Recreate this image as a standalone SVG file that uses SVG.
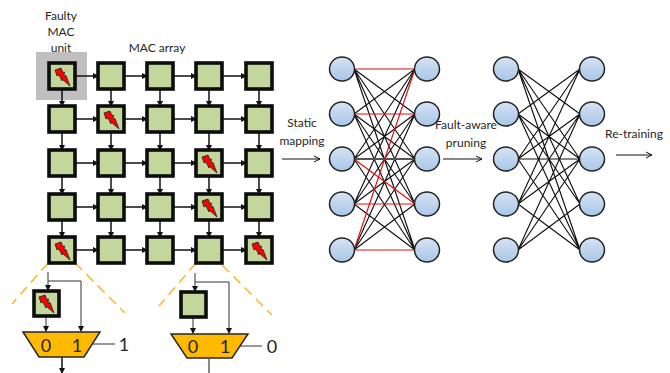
<svg xmlns="http://www.w3.org/2000/svg" xmlns:xlink="http://www.w3.org/1999/xlink" width="670" height="373" viewBox="0 0 670 373">
<style>
text{font-family:"Lato","Open Sans","Liberation Sans",sans-serif;fill:#262626}
.t{font-size:12px;text-anchor:middle}
.m{fill:#c3d69b;stroke:#0d0d0d;stroke-width:3.6}
.c{fill:none;stroke:#111;stroke-width:1.5;marker-end:url(#a)}
.d{fill:none;stroke:#333;stroke-width:1;marker-end:url(#a)}
.p{fill:none;stroke:#111;stroke-width:1;marker-end:url(#o)}
.y{stroke:#f2b92e;stroke-width:1.5;stroke-dasharray:10 6;fill:none}
.mux{fill:#ffb900;stroke:#262626;stroke-width:1.5}
.n{fill:url(#g);stroke:#222;stroke-width:1.5}
.k{stroke:#111;stroke-width:1.15;fill:none}
.r{stroke:#e01010;stroke-width:1.15;fill:none}
.b{font-size:18px;text-anchor:middle}
</style>
<defs>
<marker id="a" markerWidth="6" markerHeight="6" refX="5" refY="3" orient="auto" markerUnits="userSpaceOnUse"><path d="M0,0L6,3L0,6z" fill="#111"/></marker>
<marker id="o" markerWidth="8" markerHeight="8" refX="7" refY="4" orient="auto" markerUnits="userSpaceOnUse"><path d="M1,1L7,4L1,7" fill="none" stroke="#111"/></marker>
<linearGradient id="g" x1="0" y1="0" x2="0" y2="1"><stop offset="0" stop-color="#d5e3f4"/><stop offset="1" stop-color="#a9c6e8"/></linearGradient>
<g id="bolt"><path d="M-7,-6L-1,-8L1,-3.5L2.5,-4L2,0L4,-.5L8,10L0,3L0,5L-3,-1L-5,0z" fill="#f00" stroke="#222" stroke-width="0.8"/></g>
</defs>
<rect id="highlight" x="36" y="52" width="51" height="48" fill="#bfbfbf"/>
<g id="connectors">
<path class="c" d="M75,76H98"/><path class="c" d="M124,76H147"/><path class="c" d="M173,76H196"/><path class="c" d="M222,76H246"/>
<path class="c" d="M75,119H98"/><path class="c" d="M124,119H147"/><path class="c" d="M173,119H196"/><path class="c" d="M222,119H246"/>
<path class="c" d="M75,163H98"/><path class="c" d="M124,163H147"/><path class="c" d="M173,163H196"/><path class="c" d="M222,163H246"/>
<path class="c" d="M75,207H98"/><path class="c" d="M124,207H147"/><path class="c" d="M173,207H196"/><path class="c" d="M222,207H246"/>
<path class="c" d="M75,250H98"/><path class="c" d="M124,250H147"/><path class="c" d="M173,250H196"/><path class="c" d="M222,250H246"/>
<path class="c" d="M62,89V106"/><path class="c" d="M111,89V106"/><path class="c" d="M160,89V106"/><path class="c" d="M209,89V106"/><path class="c" d="M259,89V106"/>
<path class="c" d="M62,132V150"/><path class="c" d="M111,132V150"/><path class="c" d="M160,132V150"/><path class="c" d="M209,132V150"/><path class="c" d="M259,132V150"/>
<path class="c" d="M62,176V194"/><path class="c" d="M111,176V194"/><path class="c" d="M160,176V194"/><path class="c" d="M209,176V194"/><path class="c" d="M259,176V194"/>
<path class="c" d="M62,220V237"/><path class="c" d="M111,220V237"/><path class="c" d="M160,220V237"/><path class="c" d="M209,220V237"/><path class="c" d="M259,220V237"/>
<path class="y" d="M48,263L12,304"/><path class="y" d="M75,263L125,313"/>
<path class="y" d="M196,263L159,306"/><path class="y" d="M222,265L272,315"/>
<path class="d" d="M48,272V290"/><path class="d" d="M48,281H81V331"/><path class="d" d="M46,316V331"/>
<path class="d" d="M195,273V291"/><path class="d" d="M195,282H229V333"/><path class="d" d="M193,318V333"/>
<path class="c" d="M62,357V373"/><path d="M209,359V373" stroke="#111" fill="none"/>
<path d="M92,344H115" stroke="#333" fill="none"/><path d="M240,346H262" stroke="#333" fill="none"/>
<path class="p" d="M282,159H320"/><path class="p" d="M443,159H482"/><path class="p" d="M616,155H652"/>
</g>
<g id="mac-array">
<g id="m00"><rect class="m" x="49" y="63" width="26" height="26"/><use xlink:href="#bolt" x="62" y="76"/></g>
<g id="m01"><rect class="m" x="98" y="63" width="26" height="26"/></g>
<g id="m02"><rect class="m" x="147" y="63" width="26" height="26"/></g>
<g id="m03"><rect class="m" x="196" y="63" width="26" height="26"/></g>
<g id="m04"><rect class="m" x="246" y="63" width="26" height="26"/></g>
<g id="m10"><rect class="m" x="49" y="106" width="26" height="26"/></g>
<g id="m11"><rect class="m" x="98" y="106" width="26" height="26"/><use xlink:href="#bolt" x="111" y="119"/></g>
<g id="m12"><rect class="m" x="147" y="106" width="26" height="26"/></g>
<g id="m13"><rect class="m" x="196" y="106" width="26" height="26"/></g>
<g id="m14"><rect class="m" x="246" y="106" width="26" height="26"/></g>
<g id="m20"><rect class="m" x="49" y="150" width="26" height="26"/></g>
<g id="m21"><rect class="m" x="98" y="150" width="26" height="26"/></g>
<g id="m22"><rect class="m" x="147" y="150" width="26" height="26"/></g>
<g id="m23"><rect class="m" x="196" y="150" width="26" height="26"/><use xlink:href="#bolt" x="209" y="163"/></g>
<g id="m24"><rect class="m" x="246" y="150" width="26" height="26"/></g>
<g id="m30"><rect class="m" x="49" y="194" width="26" height="26"/></g>
<g id="m31"><rect class="m" x="98" y="194" width="26" height="26"/></g>
<g id="m32"><rect class="m" x="147" y="194" width="26" height="26"/></g>
<g id="m33"><rect class="m" x="196" y="194" width="26" height="26"/><use xlink:href="#bolt" x="209" y="207"/></g>
<g id="m34"><rect class="m" x="246" y="194" width="26" height="26"/></g>
<g id="m40"><rect class="m" x="49" y="237" width="26" height="26"/><use xlink:href="#bolt" x="62" y="250"/></g>
<g id="m41"><rect class="m" x="98" y="237" width="26" height="26"/></g>
<g id="m42"><rect class="m" x="147" y="237" width="26" height="26"/></g>
<g id="m43"><rect class="m" x="196" y="237" width="26" height="26"/></g>
<g id="m44"><rect class="m" x="246" y="237" width="26" height="26"/><use xlink:href="#bolt" x="259" y="250"/></g>
</g>
<g id="mux-left">
<g id="unit-left"><rect class="m" x="34" y="291" width="25" height="25"/><use xlink:href="#bolt" x="46" y="303"/></g>
<path class="mux" d="M23,332H100L84,357H39z"/>
<text class="b" x="46" y="352">0</text><text class="b" x="77" y="352">1</text>
<text x="124" y="351" font-size="18" text-anchor="middle">1</text>
</g>
<g id="mux-right">
<g id="unit-right"><rect class="m" x="181" y="292" width="25" height="25"/></g>
<path class="mux" d="M171,334H248L232,358H187z"/>
<text class="b" x="193" y="353">0</text><text class="b" x="225" y="353">1</text>
<text x="272" y="353" font-size="18" text-anchor="middle">0</text>
</g>
<g id="net-edges-1">
<path class="k" d="M354,69L415,114M354,69L415,159M354,69L415,204M354,69L415,250M354,114L415,69M354,114L415,159M354,114L415,204M354,114L415,250M354,159L415,69M354,159L415,114M354,159L415,250M354,204L415,69M354,204L415,114M354,204L415,159M354,204L415,250M354,250L415,114M354,250L415,159M354,250L415,204"/>
<path d="M354,159H415" stroke="#555" stroke-width="1.8" fill="none"/>
<path class="r" d="M354,69H415M354,114H415M354,159L415,204M354,204H415M354,250H415M354,250L415,69"/>
</g>
<g id="net-edges-2">
<path class="k" d="M518,69L580,114M518,69L580,159M518,69L580,204M518,69L580,250M518,114L580,69M518,114L580,159M518,114L580,204M518,114L580,250M518,159L580,69M518,159L580,114M518,159H580M518,159L580,250M518,204L580,69M518,204L580,114M518,204L580,159M518,204L580,250M518,250L580,114M518,250L580,159M518,250L580,204"/>
</g>
<g id="net-nodes-1">
<ellipse class="n" cx="342" cy="69" rx="12.5" ry="12"/><ellipse class="n" cx="342" cy="114" rx="12.5" ry="12"/><ellipse class="n" cx="342" cy="159" rx="12.5" ry="12"/><ellipse class="n" cx="342" cy="204" rx="12.5" ry="12"/><ellipse class="n" cx="342" cy="250" rx="12.5" ry="12"/>
<ellipse class="n" cx="427" cy="69" rx="12.5" ry="12"/><ellipse class="n" cx="427" cy="114" rx="12.5" ry="12"/><ellipse class="n" cx="427" cy="159" rx="12.5" ry="12"/><ellipse class="n" cx="427" cy="204" rx="12.5" ry="12"/><ellipse class="n" cx="427" cy="250" rx="12.5" ry="12"/>
</g>
<g id="net-nodes-2">
<ellipse class="n" cx="506" cy="69" rx="12.5" ry="12"/><ellipse class="n" cx="506" cy="114" rx="12.5" ry="12"/><ellipse class="n" cx="506" cy="159" rx="12.5" ry="12"/><ellipse class="n" cx="506" cy="204" rx="12.5" ry="12"/><ellipse class="n" cx="506" cy="250" rx="12.5" ry="12"/>
<ellipse class="n" cx="592" cy="69" rx="12.5" ry="12"/><ellipse class="n" cx="592" cy="114" rx="12.5" ry="12"/><ellipse class="n" cx="592" cy="159" rx="12.5" ry="12"/><ellipse class="n" cx="592" cy="204" rx="12.5" ry="12"/><ellipse class="n" cx="592" cy="250" rx="12.5" ry="12"/>
</g>
<g id="labels">
<text class="t" x="61" y="20">Faulty</text><text class="t" x="61" y="36">MAC</text><text class="t" x="61" y="52">unit</text>
<text class="t" x="157" y="52">MAC array</text>
<text class="t" x="302" y="127">Static</text><text class="t" x="302" y="145">mapping</text>
<text class="t" x="466" y="129">Fault-aware</text><text class="t" x="466" y="147">pruning</text>
<text class="t" x="634" y="138">Re-training</text>
</g>
</svg>
